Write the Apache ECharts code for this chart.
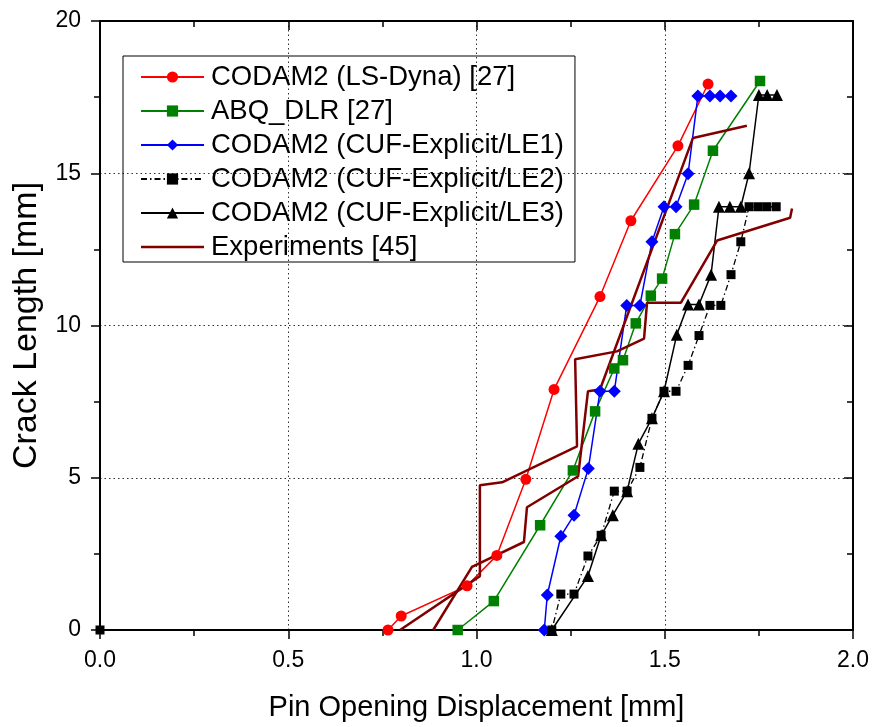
<!DOCTYPE html>
<html><head><meta charset="utf-8">
<script src="https://cdn.jsdelivr.net/npm/echarts@6/dist/echarts.min.js"></script>
<style>html,body{margin:0;padding:0;background:#fff}#c{width:872px;height:727px}</style>
</head><body><div id="c"></div>
<script>
const seriesNames = ['CODAM2 (LS-Dyna) [27]','ABQ_DLR [27]','CODAM2 (CUF-Explicit/LE1)','CODAM2 (CUF-Explicit/LE2)','CODAM2 (CUF-Explicit/LE3)','Experiments [45]'];
const xTickLabels = ['0.0','0.5','1.0','1.5','2.0'];
const yTickLabels = ['0','5','10','15','20'];
const lsDyna = [[0.765,0],[0.80,0.46],[0.975,1.45],[1.054,2.45],[1.131,4.95],[1.206,7.9],[1.328,10.95],[1.41,13.44],[1.535,15.9],[1.615,17.93]];
const abqDlr = [[0.95,0],[1.046,0.95],[1.169,3.44],[1.256,5.24],[1.315,7.18],[1.366,8.59],[1.389,8.86],[1.423,10.07],[1.463,10.98],[1.493,11.54],[1.527,13.0],[1.578,13.97],[1.628,15.74],[1.753,18.03]];
const cufLE1 = [[1.18,0],[1.188,1.15],[1.224,3.08],[1.259,3.77],[1.297,5.3],[1.328,7.84],[1.366,7.84],[1.399,10.66],[1.434,10.66],[1.466,12.75],[1.498,13.9],[1.53,13.9],[1.562,14.98],[1.588,17.54],[1.62,17.54],[1.647,17.54],[1.676,17.54]];
const cufLE2 = [[0,0],[1.2,0],[1.224,1.18],[1.259,1.18],[1.296,2.43],[1.331,3.11],[1.366,4.56],[1.4,4.56],[1.434,5.34],[1.466,6.95],[1.498,7.84],[1.53,7.84],[1.562,8.69],[1.591,9.67],[1.62,10.66],[1.649,10.66],[1.676,11.67],[1.702,12.75],[1.724,13.9],[1.748,13.9],[1.771,13.9],[1.796,13.9]];
const cufLE3 = [[1.2,0],[1.296,1.77],[1.331,3.11],[1.362,3.77],[1.4,4.56],[1.43,6.12],[1.466,6.95],[1.498,7.84],[1.532,9.7],[1.562,10.69],[1.591,10.69],[1.623,11.67],[1.644,13.9],[1.673,13.9],[1.702,13.9],[1.724,15.0],[1.75,17.57],[1.772,17.57],[1.798,17.57]];
const expA = [[0.797,0],[1.009,1.77],[1.009,4.75],[1.068,4.85],[1.267,6.03],[1.262,8.89],[1.373,9.15],[1.445,9.57],[1.453,10.75],[1.543,10.75],[1.639,12.79],[1.833,13.54],[1.838,13.84]];
const expB = [[0.885,0],[0.988,2.07],[1.126,2.89],[1.134,4.03],[1.27,5.05],[1.296,7.84],[1.328,7.9],[1.575,16.16],[1.718,16.56]];

const FONT = 'Liberation Sans, Arial, sans-serif';
const chart = echarts.init(document.getElementById('c'), null, {renderer:'canvas'});
const axisCommon = {
  type:'value',
  axisLine:{show:true, onZero:false, lineStyle:{color:'#000', width:2}},
  splitLine:{show:false},
};
function mkX(pos, main){
  return Object.assign({}, axisCommon, {
    position:pos, min:0, max:2, interval:0.5,
    axisTick:{show:true, inside:!main, length:9, lineStyle:{color:'#000', width:1.5}},
    minorTick:{show:true, splitNumber:2, length:6, lineStyle:{color:'#000', width:1.5}},
    axisLabel:{show:main, margin:19, fontFamily:FONT, fontSize:23, color:'#000',
      formatter:(v)=>xTickLabels[Math.round(v/0.5)]},
    splitLine:{show:main, lineStyle:{color:'#333', width:1, type:[1.5,3]}},
    name: main ? 'Pin Opening Displacement [mm]' : '',
    nameLocation:'middle', nameGap:63,
    nameTextStyle:{fontFamily:FONT, fontSize:29, color:'#000'}
  });
}
function mkY(pos, main){
  return Object.assign({}, axisCommon, {
    position:pos, min:0, max:20, interval:5,
    axisTick:{show:true, inside:!main, length:9, lineStyle:{color:'#000', width:1.5}},
    minorTick:{show:true, splitNumber:2, length:6, lineStyle:{color:'#000', width:1.5}},
    axisLabel:{show:main, margin:19, fontFamily:FONT, fontSize:23, color:'#000',
      formatter:(v)=>yTickLabels[Math.round(v/5)]},
    splitLine:{show:main, lineStyle:{color:'#333', width:1, type:[1.5,3]}},
    name: main ? 'Crack Length [mm]' : '',
    nameLocation:'middle', nameGap:56,
    nameTextStyle:{fontFamily:FONT, fontSize:34, color:'#000'}
  });
}
function ser(name, data, color, symbol, size, extra){
  return Object.assign({
    name, type:'line', data, xAxisIndex:0, yAxisIndex:0,
    symbol, symbolSize:size, showSymbol:true,
    lineStyle:{color, width:1.5},
    itemStyle:{color, borderWidth:0},
    animation:false
  }, extra||{});
}
const legendData = seriesNames.map((n,i)=> i===5 ? {name:n, icon:'path://M0,0 L63,0 L63,2.5 L0,2.5 Z'} : {name:n});
chart.setOption({
  animation:false,
  backgroundColor:'#fff',
  grid:{left:100, right:19, top:21, bottom:96},
  xAxis:[mkX('bottom', true), mkX('top', false)],
  yAxis:[mkY('left', true), mkY('right', false)],
  legend:{
    orient:'vertical', left:123, top:56,
    padding:[7,11,1,17],
    borderColor:'#000', borderWidth:1,
    itemWidth:63, itemHeight:14, itemGap:6,
    textStyle:{fontFamily:FONT, fontSize:27.5, color:'#000', lineHeight:28, padding:[0,0,0,2]},
    data:legendData
  },
  series:[
    ser(seriesNames[0], lsDyna, '#ff0000', 'circle', 11),
    ser(seriesNames[1], abqDlr, '#008000', 'rect', 10.5),
    ser(seriesNames[2], cufLE1, '#0000ff', 'diamond', 13),
    ser(seriesNames[3], cufLE2, '#000000', 'rect', 9, {lineStyle:{color:'#000', width:1.3, type:[6,3,1.5,3]}}),
    ser(seriesNames[4], cufLE3, '#000000', 'triangle', 12),
    ser(seriesNames[5], expA, '#800000', 'none', 0, {lineStyle:{color:'#800000', width:2.5}}),
    ser(seriesNames[5], expB, '#800000', 'none', 0, {lineStyle:{color:'#800000', width:2.5}})
  ]
});
</script>
</body></html>
